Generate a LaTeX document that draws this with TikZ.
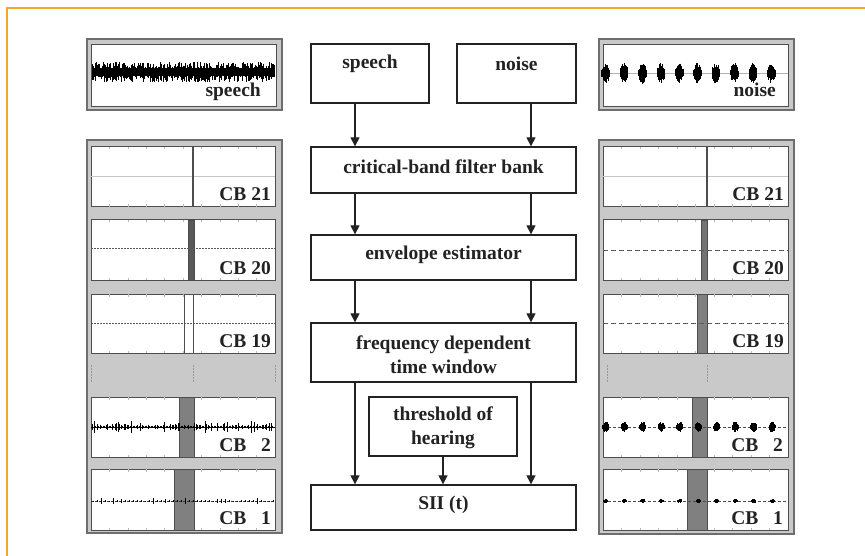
\documentclass[tikz,border=0pt]{standalone}
\usepackage{fontspec}
\setmainfont{Liberation Serif}
\usetikzlibrary{arrows.meta}
\definecolor{frameorange}{RGB}{242,168,48}
\definecolor{panelgray}{RGB}{201,201,201}
\definecolor{paneledge}{RGB}{110,110,110}
\definecolor{plotedge}{RGB}{78,78,78}
\definecolor{inkdark}{RGB}{34,34,34}
\definecolor{barfill}{RGB}{128,128,128}

% white plot area with light tick marks along top and bottom
\newcommand\plotbox[4]{%
  \draw[plotedge, line width=1pt, fill=white] (#1,#2) rectangle (#3,#4);
  \foreach \tk in {1,...,9} {
    \pgfmathsetmacro\tickx{#1+(#3-#1)*\tk/10}
    \draw[gray!55, line width=0.5pt] (\tickx,#2) -- (\tickx,#2+2.5)
                                     (\tickx,#4) -- (\tickx,#4-2.5);
  }
}
% band marker: x0, x1, y0, y1, fill colour
\newcommand\bandbar[5]{%
  \draw[plotedge, line width=0.7pt, fill=#5] (#1,#3) rectangle (#2,#4);
}
% regular bursts: first centre, spacing, count-1, baseline y, amplitude, half width
\newcommand\bursts[6]{%
  \foreach \bb in {0,...,#3} {
    \foreach \nn in {0,...,12} {
      \pgfmathsetmacro\dd{-#6+\nn*#6/6}
      \pgfmathsetmacro\bx{#1+#2*\bb+\dd}
      \pgfmathsetmacro\ba{#5*(1-(\dd/(#6+1))^2)*(0.55+0.45*rnd)}
      \pgfmathsetmacro\bc{#5*(1-(\dd/(#6+1))^2)*(0.55+0.45*rnd)}
      \draw[black, line width=0.55pt] (\bx,#4-\ba) -- (\bx,#4+\bc);
    }
  }
}

\begin{document}
\begin{tikzpicture}[x=1pt,y=-1pt,
  box/.style={draw=inkdark, line width=1.3pt, fill=white, inner sep=0pt},
  lbl/.style={text=inkdark, font=\fontsize{19.5}{24}\selectfont\bfseries,
              align=center, inner sep=0pt},
  cblbl/.style={text=inkdark, font=\fontsize{19.5}{22}\selectfont\bfseries,
                anchor=base east, inner sep=0pt},
  flow/.style={draw=inkdark, line width=1.2pt, -{Triangle[width=9pt,length=9pt]}},
  panel/.style={draw=paneledge, line width=1.6pt, fill=panelgray},
  gapmark/.style={draw=gray!80, line width=0.6pt, dash pattern=on 2pt off 1pt}
]
\useasboundingbox (0,0) rectangle (865,556);
\fill[white] (0,0) rectangle (865,556);

% page frame (top and left edges)
\draw[frameorange, line width=1.5pt] (7,556) -- (7,8) -- (865,8);

% ---------------- left column: speech ----------------
\draw[panel] (87,39) rectangle (282,110);
\draw[plotedge, line width=0.8pt, fill=white] (91,44) rectangle (276,106);
\begin{scope}
  \clip (92,45) rectangle (275,105);
  \pgfmathsetseed{4}
  \foreach \k in {0,...,300} {
    \pgfmathsetmacro\wx{92.5+\k*0.607}
    \pgfmathsetmacro\wu{3.5+7*rnd^2}
    \pgfmathsetmacro\wd{3.5+7*rnd^2}
    \draw[black, line width=0.6pt] (\wx,72-\wu) -- (\wx,72+\wd);
  }
\end{scope}
\node[cblbl] (spL) at (261,97) {speech};

\draw[panel] (87,140) rectangle (282,533);
% gap marks between CB 19 and CB 2
\draw[gapmark] (91,365) -- (91,382) (193,365) -- (193,382) (275,365) -- (275,382);

% CB 21
\plotbox{91}{147}{275}{207}
\draw[gray!45, line width=0.8pt] (91,176) -- (275,176);
\draw[plotedge, line width=1.4pt] (193,147) -- (193,207);
\node[cblbl] (cb21L) at (271,201) {CB 21};
% CB 20
\plotbox{91}{220}{275}{280}
\bandbar{188}{194}{220}{280}{black!65}
\draw[gray!70!black, line width=1pt, dash pattern=on 2pt off 1pt] (91,249) -- (275,249);
\node[cblbl] (cb20L) at (271,274) {CB 20};
% CB 19
\plotbox{91}{294}{275}{353}
\bandbar{184}{193}{294}{353}{white}
\draw[gray!70!black, line width=1pt, dash pattern=on 2pt off 1pt] (91,323) -- (275,323);
\node[cblbl] (cb19L) at (271,347) {CB 19};
% CB 2
\plotbox{91}{397}{275}{457}
\bandbar{179}{194}{397}{457}{barfill}
\draw[black, line width=1pt] (91,427) -- (275,427);
\pgfmathsetseed{11}
\foreach \k in {0,...,120} {
  \pgfmathsetmacro\wx{92.5+\k*1.5}
  \pgfmathsetmacro\wa{1+6*rnd^3}
  \draw[black, line width=0.9pt] (\wx,427-\wa) -- (\wx,427+\wa);
}
\node[cblbl] (cb2L) at (271,451) {CB \phantom{2}2};
% CB 1
\plotbox{91}{469}{275}{530}
\bandbar{174}{194}{469}{530}{barfill}
\draw[black!80, line width=0.7pt, dash pattern=on 3pt off 1pt] (91,501) -- (275,501);
\pgfmathsetseed{23}
\foreach \k in {0,...,45} {
  \pgfmathsetmacro\wx{93+\k*4}
  \pgfmathsetmacro\wa{0.5+3*rnd^4}
  \draw[black, line width=0.9pt] (\wx,501-\wa) -- (\wx,501+\wa);
}
\node[cblbl] (cb1L) at (271,524) {CB \phantom{1}1};

% ---------------- right column: noise ----------------
\draw[panel] (599,39) rectangle (794,110);
\draw[plotedge, line width=0.8pt, fill=white] (603,44) rectangle (788,106);
\draw[gray!60, line width=0.6pt] (603,73) -- (788,73);
\pgfmathsetseed{5}
\bursts{605.5}{18.4}{9}{73}{11}{3.8}
\node[cblbl] (nzR) at (776,97) {noise};

\draw[panel] (599,140) rectangle (794,534);
\draw[gapmark] (607,365) -- (607,382) (707,365) -- (707,382);
\draw[paneledge, line width=1.6pt] (794,363) -- (794,378);

% CB 21
\plotbox{603}{147}{788}{207}
\draw[gray!45, line width=0.8pt] (603,176) -- (788,176);
\draw[plotedge, line width=1.4pt] (707,147) -- (707,207);
\node[cblbl] (cb21R) at (784,201) {CB 21};
% CB 20
\plotbox{603}{220}{788}{280}
\bandbar{701}{707}{220}{280}{black!55}
\draw[gray!70!black, line width=0.9pt, dash pattern=on 5pt off 3pt] (603,250) -- (788,250);
\node[cblbl] (cb20R) at (784,274) {CB 20};
% CB 19
\plotbox{603}{294}{788}{353}
\bandbar{697}{707}{294}{353}{black!50}
\draw[gray!70!black, line width=0.9pt, dash pattern=on 5pt off 3pt] (603,323) -- (788,323);
\node[cblbl] (cb19R) at (784,347) {CB 19};
% CB 2
\plotbox{603}{397}{788}{457}
\bandbar{692}{707}{397}{457}{barfill}
\draw[black!70, line width=0.6pt, dash pattern=on 3pt off 2pt] (603,427) -- (788,427);
\pgfmathsetseed{8}
\bursts{605.5}{18.5}{9}{427}{5.5}{2.8}
\node[cblbl] (cb2R) at (783,451) {CB \phantom{2}2};
% CB 1
\plotbox{603}{469}{788}{530}
\bandbar{687}{707}{469}{530}{barfill}
\draw[black!70, line width=0.6pt, dash pattern=on 3pt off 2pt] (603,501) -- (788,501);
\pgfmathsetseed{9}
\bursts{605.5}{18.5}{9}{501}{2.2}{2}
\node[cblbl] (cb1R) at (783,524) {CB \phantom{1}1};

% ---------------- centre: processing chain ----------------
\coordinate (colL) at (355,0);
\coordinate (colM) at (443,0);
\coordinate (colR) at (531,0);

\node[box, minimum width=118pt, minimum height=59pt] (speech) at (370,73.5) {};
\node[lbl] (speechtxt) at (370,64) {speech};
\node[box, minimum width=119pt, minimum height=59pt] (noise) at (516.5,73.5) {};
\node[lbl] (noisetxt) at (516.5,64) {noise};

\node[box, minimum width=265pt, minimum height=46pt] (cbf) at (443.5,170) {};
\node[lbl] (cbftxt) at (443.5,167) {critical-band filter bank};

\node[box, minimum width=265pt, minimum height=45pt] (env) at (443.5,257.5) {};
\node[lbl] (envtxt) at (443.5,255) {envelope estimator};

\node[box, minimum width=265pt, minimum height=59pt] (fdtw) at (443.5,352.5) {};
\node[lbl] (fdtwtxt) at (443.5,355) {frequency dependent\\time window};

\node[box, minimum width=148pt, minimum height=59pt] (thr) at (443,426.5) {};
\node[lbl] (thrtxt) at (443,428) {threshold of\\hearing};

\node[box, minimum width=265pt, minimum height=45pt] (sii) at (443.5,507.5) {};
\node[lbl] (siitxt) at (443.5,505) {SII (t)};

\draw[flow] (speech.south -| colL) -- (cbf.north -| colL);
\draw[flow] (noise.south -| colR) -- (cbf.north -| colR);
\draw[flow] (cbf.south -| colL) -- (env.north -| colL);
\draw[flow] (cbf.south -| colR) -- (env.north -| colR);
\draw[flow] (env.south -| colL) -- (fdtw.north -| colL);
\draw[flow] (env.south -| colR) -- (fdtw.north -| colR);
\draw[flow] (fdtw.south -| colL) -- (sii.north -| colL);
\draw[flow] (fdtw.south -| colR) -- (sii.north -| colR);
\draw[flow] (thr.south -| colM) -- (sii.north -| colM);
\end{tikzpicture}
\end{document}
